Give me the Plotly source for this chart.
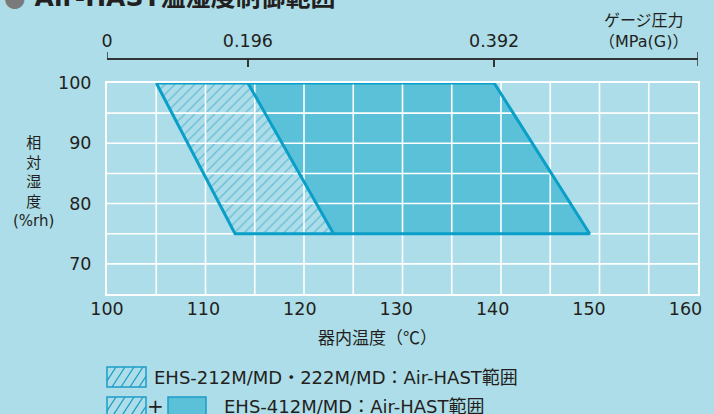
import plotly.graph_objects as go

# ---------------- data ----------------
temp_ticks = [100, 110, 120, 130, 140, 150, 160]
rh_ticks = [70, 80, 90, 100]
temp_grid = [105, 110, 115, 120, 125, 130, 135, 140, 145, 150, 155]
rh_grid = [70, 75, 80, 85, 90, 95]

# EHS-212M/MD・222M/MD range (hatched)
ehs212_temp = [105, 114.3, 123, 113, 105]
ehs212_rh = [100, 100, 75, 75, 100]
# extra range of EHS-412M/MD (solid)
ehs412_temp = [114.3, 139.3, 149, 123, 114.3]
ehs412_rh = [100, 100, 75, 75, 100]
# outline
outline_temp = [105, 139.3, 149, 113, 105]
outline_rh = [100, 100, 75, 75, 100]
divider_temp = [114.3, 123]
divider_rh = [100, 75]

# top (gauge pressure) axis
pressure_labels = ["0", "0.196", "0.392"]
pressure_temp = [100, 114.3, 139.3]

# ---------------- style ----------------
W, H = 714, 414
ML, MR, MT, MB = 107, 16, 59, 120
PW = W - ML - MR
PH = H - MT - MB
BG = "#ADDDE8"
FILL = "#5BC1D8"
LINE = "#0A9FC9"
HATCH = "#1B9DC6"
TXT = "#231F20"
FONT = "DejaVu Sans, Noto Sans CJK JP"
CJK = "Noto Sans CJK JP"
LABEL_AXIS_END = 161.3  # tick labels of the reference sit slightly left of their gridlines


def px(x):
    return (x - ML) / PW


def py(y):
    return (H - MB - y) / PH


ydom_top = py(83)

fig = go.Figure()

# solid fill (412 extension)
fig.add_trace(go.Scatter(x=ehs412_temp, y=ehs412_rh, fill="toself", fillcolor=FILL,
                         mode="lines", line=dict(width=0), hoverinfo="skip", showlegend=False))
# hatched fill (212/222)
fig.add_trace(go.Scatter(x=ehs212_temp, y=ehs212_rh, fill="toself", fillcolor="rgba(0,0,0,0)",
                         fillpattern=dict(shape="/", fgcolor=HATCH, bgcolor="rgba(0,0,0,0)",
                                          size=7, solidity=0.18),
                         mode="lines", line=dict(width=0), hoverinfo="skip", showlegend=False))

# grid lines (drawn over the fills)
gx, gy = [], []
for t in temp_grid:
    gx += [t, t, None]
    gy += [65, 100, None]
for r in rh_grid:
    gx += [100, 160, None]
    gy += [r, r, None]
fig.add_trace(go.Scatter(x=gx, y=gy, mode="lines", line=dict(color="white", width=1.6),
                         hoverinfo="skip", showlegend=False))

# outline
fig.add_trace(go.Scatter(x=outline_temp, y=outline_rh, mode="lines",
                         line=dict(color=LINE, width=3), hoverinfo="skip", showlegend=False))
fig.add_trace(go.Scatter(x=divider_temp, y=divider_rh, mode="lines",
                         line=dict(color=LINE, width=3), hoverinfo="skip", showlegend=False))

# invisible traces to instantiate the extra axes
fig.add_trace(go.Scatter(x=pressure_temp, y=[80] * len(pressure_temp), xaxis="x2", yaxis="y",
                         mode="markers", marker=dict(opacity=0), hoverinfo="skip", showlegend=False))
fig.add_trace(go.Scatter(x=temp_ticks, y=[80] * len(temp_ticks), xaxis="x3", yaxis="y",
                         mode="markers", marker=dict(opacity=0), hoverinfo="skip", showlegend=False))

fig.update_layout(
    width=W, height=H,
    margin=dict(l=ML, r=MR, t=MT, b=MB, autoexpand=False),
    paper_bgcolor=BG, plot_bgcolor=BG,
    font=dict(family=FONT, color=TXT),
    xaxis=dict(range=[100, 160], tickvals=temp_ticks, showgrid=False, zeroline=False,
               showline=True, linecolor="white", linewidth=2, mirror=True, automargin=False,
               ticks="", showticklabels=False),
    xaxis3=dict(range=[100, LABEL_AXIS_END], overlaying="x", anchor="y", side="bottom",
                tickvals=temp_ticks, showgrid=False, zeroline=False, showline=False, ticks="",
                automargin=False, ticklabeloverflow="allow",
                tickfont=dict(size=17.5, color=TXT), ticklabelstandoff=2),
    yaxis=dict(range=[65, 100], domain=[0, ydom_top], tickvals=rh_ticks, showgrid=False,
               zeroline=False, showline=True, linecolor="white", linewidth=2, mirror=True,
               automargin=False,
               ticks="", tickfont=dict(size=17.5, color=TXT), ticklabelstandoff=10),
    xaxis2=dict(range=[100, 160], overlaying="x", anchor="free", position=1, side="top",
                tickvals=pressure_temp, ticktext=pressure_labels, ticks="inside", ticklen=7,
                tickwidth=1.5, tickcolor="#333", showline=True, linecolor="#333", linewidth=1.5,
                showgrid=False, zeroline=False, tickfont=dict(size=17.5, color=TXT),
                automargin=False, ticklabelstandoff=4),
)

shapes = []
# end caps on the top axis
shapes.append(dict(type="line", xref="x", yref="paper", x0=100, x1=100, y0=1, y1=py(52),
                   line=dict(color="#333", width=1.5)))
shapes.append(dict(type="line", xref="x", yref="paper", x0=160, x1=160, y0=py(66), y1=py(52),
                   line=dict(color="#333", width=1.5)))


def hatch_box(x0, x1, ytop, ybot, spacing=9, dx=13):
    segs = []
    s = x0 - dx
    while s < x1:
        t0 = max(0.0, (x0 - s) / dx)
        t1 = min(1.0, (x1 - s) / dx)
        if t1 > t0:
            xa, ya = s + dx * t0, ybot - (ybot - ytop) * t0
            xb, yb = s + dx * t1, ybot - (ybot - ytop) * t1
            segs.append(f"M{px(xa)},{py(ya)} L{px(xb)},{py(yb)}")
        s += spacing
    shapes.append(dict(type="path", xref="paper", yref="paper", path=" ".join(segs),
                       line=dict(color=HATCH, width=1.3)))
    shapes.append(dict(type="rect", xref="paper", yref="paper", x0=px(x0), x1=px(x1),
                       y0=py(ybot), y1=py(ytop), line=dict(color=HATCH, width=1.5)))


hatch_box(107, 146, 367, 387)
hatch_box(107, 146, 397, 417)
shapes.append(dict(type="rect", xref="paper", yref="paper", x0=px(168), x1=px(206),
                   y0=py(417), y1=py(397), fillcolor=FILL, line=dict(color=HATCH, width=1.5)))
fig.update_layout(shapes=shapes)

ann = []
ann.append(dict(xref="paper", yref="paper", x=px(2), y=py(14), xanchor="left", yanchor="bottom",
                text="<b><span style='color:#7a7a7a'>●</span> Air-HAST温湿度制御範囲</b>",
                showarrow=False, font=dict(size=25, color=TXT)))
ann.append(dict(xref="paper", yref="paper", x=px(643), y=py(31), xanchor="center", yanchor="middle",
                text="ゲージ圧力<br>（MPa(G)）", showarrow=False, font=dict(size=16, color=TXT)))
ann.append(dict(xref="paper", yref="paper", x=px(33), y=py(182), xanchor="center", yanchor="middle",
                text="相<br>対<br>湿<br>度<br>(%rh)", showarrow=False, font=dict(size=15, color=TXT)))
ann.append(dict(xref="paper", yref="paper", x=px(377), y=py(336), xanchor="center", yanchor="middle",
                text="器内温度（℃）", showarrow=False, font=dict(size=17, family=CJK, color=TXT)))
ann.append(dict(xref="paper", yref="paper", x=px(152), y=py(377), xanchor="left", yanchor="middle",
                text="EHS-212M/MD・222M/MD：Air-HAST範囲", showarrow=False, font=dict(size=18, color=TXT)))
ann.append(dict(xref="paper", yref="paper", x=px(155), y=py(406), xanchor="center", yanchor="middle",
                text="+", showarrow=False, font=dict(size=20, color=TXT)))
ann.append(dict(xref="paper", yref="paper", x=px(222), y=py(406), xanchor="left", yanchor="middle",
                text="EHS-412M/MD：Air-HAST範囲", showarrow=False, font=dict(size=18, color=TXT)))
fig.update_layout(annotations=ann)

fig.write_html("out.html", config={"displayModeBar": False},
               post_script="document.body.style.margin='0';document.body.style.overflow='hidden';")
